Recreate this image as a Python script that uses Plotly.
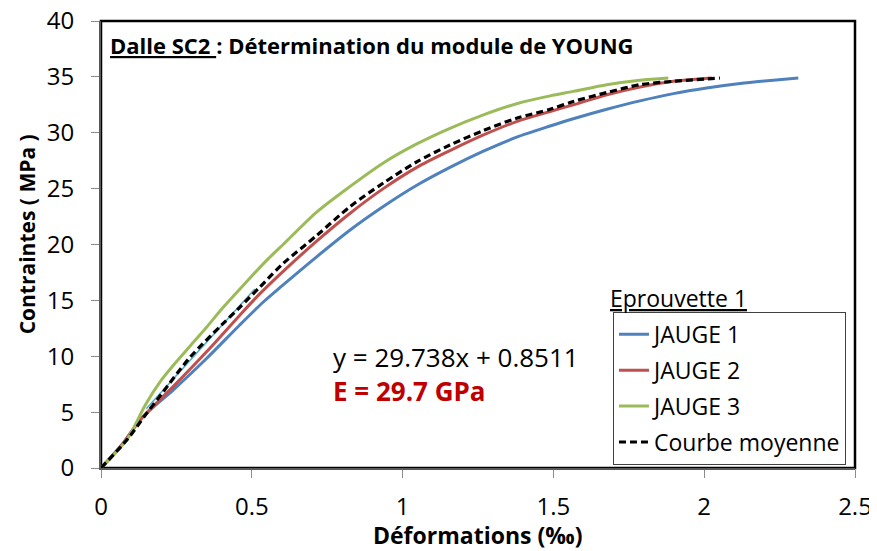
import plotly.graph_objects as go

# JAUGE 1 (blue)
j1_x = [0, 0.07, 0.14, 0.24, 0.35, 0.46, 0.54, 0.60, 0.715, 0.826, 0.936, 1.047, 1.157, 1.268, 1.378, 1.489, 1.566, 1.677, 1.787, 1.898, 2.008, 2.119, 2.229, 2.312]
j1_y = [0, 2.1, 4.6, 7.0, 9.8, 12.8, 14.9, 16.3, 18.9, 21.3, 23.4, 25.3, 26.9, 28.35, 29.6, 30.6, 31.25, 32.1, 32.85, 33.5, 34.0, 34.4, 34.7, 34.9]
# JAUGE 2 (red)
j2_x = [0, 0.07, 0.129, 0.24, 0.35, 0.461, 0.527, 0.604, 0.715, 0.826, 0.936, 1.047, 1.157, 1.268, 1.378, 1.489, 1.566, 1.677, 1.787, 1.898, 2.025]
j2_y = [0, 2.1, 4.3, 7.3, 10.4, 13.7, 15.6, 17.6, 20.3, 22.8, 25.0, 26.9, 28.4, 29.8, 31.0, 31.9, 32.5, 33.4, 34.1, 34.6, 34.9]
# JAUGE 3 (green)
j3_x = [0, 0.09, 0.146, 0.201, 0.24, 0.295, 0.35, 0.406, 0.45, 0.494, 0.55, 0.604, 0.715, 0.826, 0.936, 1.047, 1.157, 1.268, 1.378, 1.489, 1.566, 1.677, 1.787, 1.881]
j3_y = [0, 2.7, 5.6, 7.9, 9.2, 10.9, 12.6, 14.4, 15.7, 17.0, 18.6, 20.0, 22.9, 25.2, 27.3, 29.0, 30.4, 31.6, 32.6, 33.3, 33.7, 34.3, 34.7, 34.9]
# Courbe moyenne (dashed)
moy_x = [0, 0.09, 0.146, 0.2, 0.295, 0.4, 0.461, 0.527, 0.604, 0.715, 0.826, 0.936, 1.047, 1.157, 1.268, 1.378, 1.489, 1.566, 1.677, 1.787, 1.898, 2.052]
moy_y = [0, 2.65, 4.7, 6.6, 9.9, 12.8, 14.4, 16.2, 18.3, 20.8, 23.4, 25.5, 27.4, 28.9, 30.2, 31.3, 32.1, 32.8, 33.6, 34.3, 34.6, 34.9]
# Linear trend on the mean curve
slope = 29.738
intercept = 0.8511
trend_x = [0.15, 0.51]
trend_y = [slope * v + intercept for v in trend_x]

x_ticks = [0, 0.5, 1, 1.5, 2, 2.5]
x_tick_labels = ["0", "0.5", "1", "1.5", "2", "2.5"]
y_ticks = [0, 5, 10, 15, 20, 25, 30, 35, 40]

FONT = "Open Sans"

fig = go.Figure()
fig.add_trace(go.Scatter(x=j1_x, y=j1_y, mode="lines", name="JAUGE 1",
                         line=dict(color="#4F81BD", width=3, shape="spline", smoothing=0.8), legendgroup="a"))
fig.add_trace(go.Scatter(x=j2_x, y=j2_y, mode="lines", name="JAUGE 2",
                         line=dict(color="#C0504D", width=3, shape="spline", smoothing=0.8), legendgroup="b"))
fig.add_trace(go.Scatter(x=j3_x, y=j3_y, mode="lines", name="JAUGE 3",
                         line=dict(color="#9BBB59", width=3, shape="spline", smoothing=0.8), legendgroup="c"))
fig.add_trace(go.Scatter(x=trend_x, y=trend_y, mode="lines", showlegend=False,
                         line=dict(color="#4BACC6", width=1.5)))
fig.add_trace(go.Scatter(x=moy_x, y=moy_y, mode="lines", name="Courbe moyenne",
                         line=dict(color="black", width=3.2, dash="7px,4px", shape="spline", smoothing=0.8),
                         legendgroup="d"))

fig.update_layout(
    width=869, height=543,
    margin=dict(l=93, r=22, t=13, b=83),
    paper_bgcolor="white", plot_bgcolor="white",
    font=dict(family=FONT, size=24, color="black"),
    showlegend=True,
    legend=dict(x=0.679, y=0.007, xanchor="left", yanchor="bottom",
                bgcolor="white", bordercolor="#404040", borderwidth=1,
                font=dict(family=FONT, size=23), traceorder="grouped",
                tracegroupgap=3, itemwidth=30),
    xaxis=dict(range=[0, 2.5], tickvals=x_ticks, ticktext=x_tick_labels,
               showgrid=False, zeroline=False, showline=True, linecolor="#595959",
               linewidth=2, ticks="outside", ticklen=8, tickcolor="#8c8c8c", tickwidth=1,
               tickfont=dict(family=FONT, size=24), ticklabelstandoff=8, automargin=False,
               ticklabeloverflow="allow"),
    yaxis=dict(range=[0, 40], tickvals=y_ticks,
               showgrid=False, zeroline=False, showline=True, linecolor="#595959",
               linewidth=2, ticks="outside", ticklen=8, tickcolor="#8c8c8c", tickwidth=1,
               tickfont=dict(family=FONT, size=24), ticklabelstandoff=12, automargin=False,
               ticklabeloverflow="allow"),
    shapes=[dict(type="rect", xref="paper", yref="paper", x0=0, x1=1, y0=0, y1=1,
                 line=dict(color="black", width=2.5), layer="below")],
    annotations=[
        dict(text="<b>Déformations (‰)</b>", xref="paper", yref="paper", x=0.5, y=-0.149,
             xanchor="center", yanchor="middle", showarrow=False,
             font=dict(family=FONT, size=23, color="black")),
        dict(text="<b>Contraintes ( MPa )</b>", xref="paper", yref="paper", x=-0.098, y=0.523,
             xanchor="center", yanchor="middle", textangle=-90, showarrow=False,
             font=dict(family=FONT, size=21, color="black")),
        dict(text='<b><span style="text-decoration:underline">Dalle SC2 </span>: Détermination du module de YOUNG</b>',
             xref="paper", yref="paper", x=0.009, y=0.946, xanchor="left", yanchor="middle",
             showarrow=False, font=dict(family=FONT, size=22, color="black")),
        dict(text='<span style="text-decoration:underline">Eprouvette 1</span>',
             xref="paper", yref="paper", x=0.673, y=0.38, xanchor="left", yanchor="middle",
             showarrow=False, font=dict(family=FONT, size=23, color="black")),
        dict(text="y = 29.738x + 0.8511", xref="paper", yref="paper", x=0.305, y=0.248,
             xanchor="left", yanchor="middle", showarrow=False,
             font=dict(family=FONT, size=26, color="black")),
        dict(text="<b>E = 29.7 GPa</b>", xref="paper", yref="paper", x=0.305, y=0.172,
             xanchor="left", yanchor="middle", showarrow=False,
             font=dict(family=FONT, size=26, color="#C00000")),
    ],
)

fig.write_html("out.html")
